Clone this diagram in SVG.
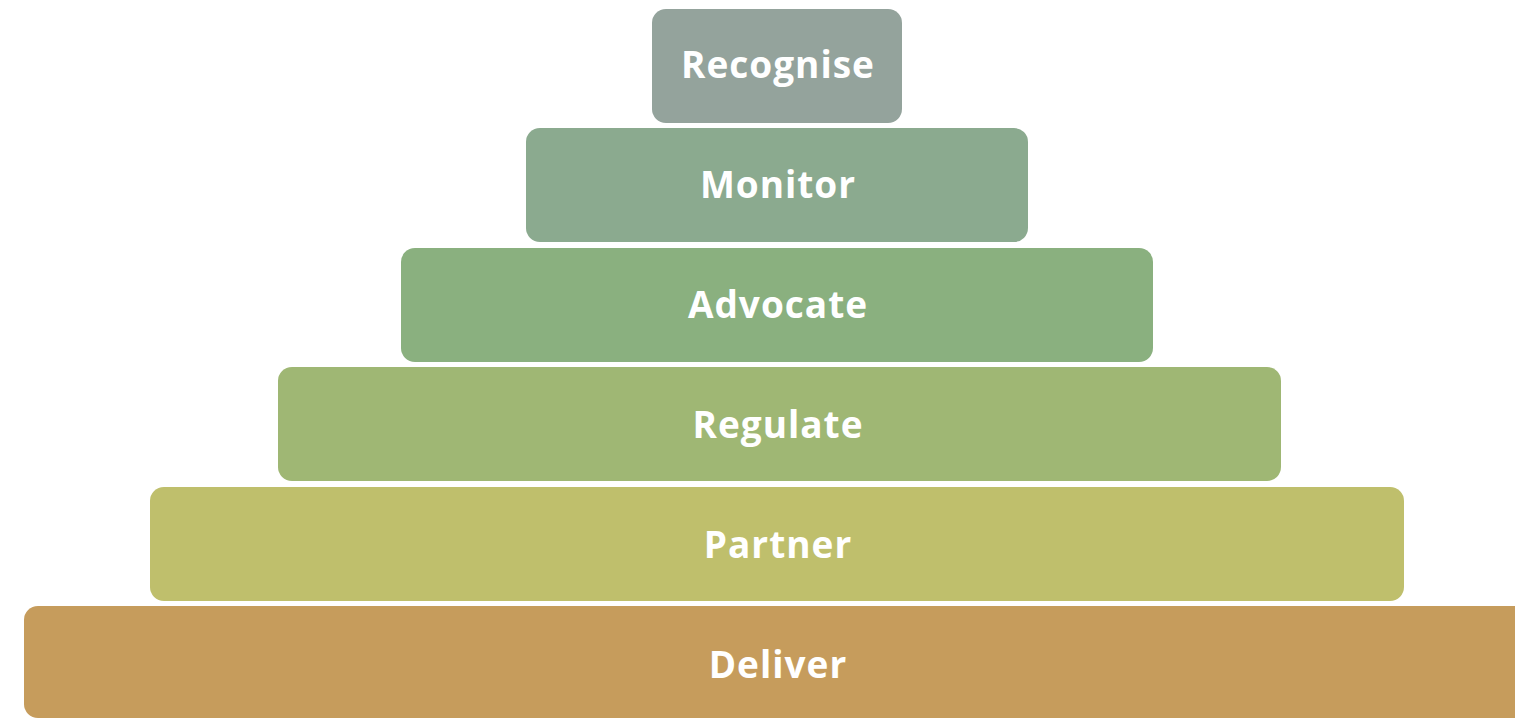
<svg xmlns="http://www.w3.org/2000/svg" width="1515" height="718" viewBox="0 0 1515 718">
<style>
.t{font-family:"Open Sans","Liberation Sans",sans-serif;font-weight:700;font-size:37px;letter-spacing:1px;fill:#ffffff;text-anchor:middle}
</style>
<rect width="1515" height="718" fill="#ffffff"/>
<g id="recognise"><rect x="652" y="9" width="250" height="114" rx="14" fill="#94a39c"/><text class="t" x="778" y="78">Recognise</text></g>
<g id="monitor"><rect x="526" y="128" width="502" height="114" rx="14" fill="#8baa8f"/><text class="t" x="778" y="198">Monitor</text></g>
<g id="advocate"><rect x="401" y="248" width="752" height="114" rx="14" fill="#8ab07f"/><text class="t" x="778" y="318">Advocate</text></g>
<g id="regulate"><rect x="278" y="367" width="1003" height="114" rx="14" fill="#9fb774"/><text class="t" x="778" y="438">Regulate</text></g>
<g id="partner"><rect x="150" y="487" width="1254" height="114" rx="14" fill="#bfbf6c"/><text class="t" x="778" y="558">Partner</text></g>
<g id="deliver"><rect x="24" y="606" width="1506" height="112" rx="14" fill="#c69c5c"/><text class="t" x="778" y="678">Deliver</text></g>
<g id="connectors"></g>
</svg>
